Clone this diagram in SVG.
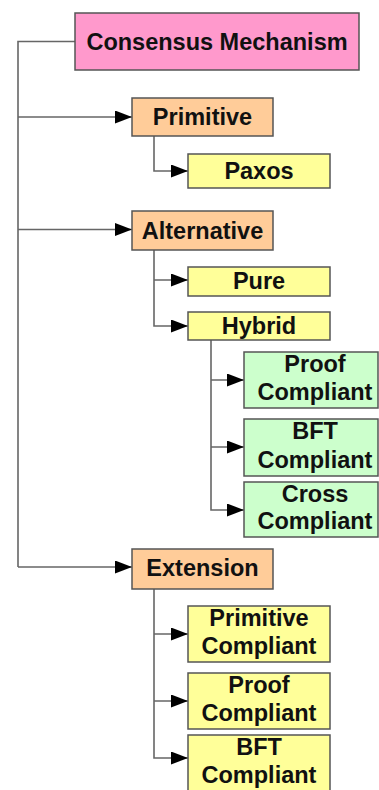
<svg xmlns="http://www.w3.org/2000/svg" width="379" height="790" viewBox="0 0 379 790">
<style>
.box{stroke:#555;stroke-width:1.5}
.root{fill:#ff99cc}
.org{fill:#ffcc99}
.yel{fill:#ffff99}
.grn{fill:#ccffcc}
text{font-family:"Liberation Sans",Arial,sans-serif;font-weight:bold;font-size:23.5px;fill:#111;text-anchor:middle}
.con path{fill:none;stroke:#666;stroke-width:1.6}
</style>
<defs>
<marker id="arr" markerUnits="userSpaceOnUse" markerWidth="18" markerHeight="14" refX="17" refY="6.5" orient="auto">
<path d="M0,0 L17,6.5 L0,13 z" fill="#000"/>
</marker>
</defs>
<g class="con">
<path d="M75,41.5 H18 V567"/>
<path d="M18,117 H132" marker-end="url(#arr)"/>
<path d="M18,229.5 H132" marker-end="url(#arr)"/>
<path d="M18,567 H132" marker-end="url(#arr)"/>
<path d="M154,136 V171 H188" marker-end="url(#arr)"/>
<path d="M154,250 V326 H188" marker-end="url(#arr)"/>
<path d="M154,280 H188" marker-end="url(#arr)"/>
<path d="M211,340 V510 H244" marker-end="url(#arr)"/>
<path d="M211,380 H244" marker-end="url(#arr)"/>
<path d="M211,447 H244" marker-end="url(#arr)"/>
<path d="M154,589 V758 H188" marker-end="url(#arr)"/>
<path d="M154,634 H188" marker-end="url(#arr)"/>
<path d="M154,701 H188" marker-end="url(#arr)"/>
</g>
<g id="consensus"><rect class="box root" x="75" y="13" width="284" height="57"/><text x="217" y="50">Consensus Mechanism</text></g>
<g id="primitive"><rect class="box org" x="132" y="98" width="141" height="38"/><text x="202.5" y="125">Primitive</text></g>
<g id="paxos"><rect class="box yel" x="188" y="154" width="142" height="34"/><text x="259" y="179">Paxos</text></g>
<g id="alternative"><rect class="box org" x="132" y="211" width="141" height="39"/><text x="202.5" y="238.5">Alternative</text></g>
<g id="pure"><rect class="box yel" x="188" y="267" width="142" height="29"/><text x="259" y="288.5">Pure</text></g>
<g id="hybrid"><rect class="box yel" x="188" y="312" width="142" height="28"/><text x="259" y="334">Hybrid</text></g>
<g id="h-proof"><rect class="box grn" x="244" y="352" width="134" height="56"/><text x="315" y="372">Proof</text><text x="315" y="400">Compliant</text></g>
<g id="h-bft"><rect class="box grn" x="244" y="419" width="134" height="57"/><text x="315" y="439">BFT</text><text x="315" y="468">Compliant</text></g>
<g id="h-cross"><rect class="box grn" x="244" y="482" width="134" height="55"/><text x="315" y="502">Cross</text><text x="315" y="529">Compliant</text></g>
<g id="extension"><rect class="box org" x="132" y="549" width="141" height="40"/><text x="202.5" y="576">Extension</text></g>
<g id="e-primitive"><rect class="box yel" x="188" y="606" width="142" height="56"/><text x="259" y="626">Primitive</text><text x="259" y="654">Compliant</text></g>
<g id="e-proof"><rect class="box yel" x="188" y="673" width="142" height="56"/><text x="259" y="693">Proof</text><text x="259" y="721">Compliant</text></g>
<g id="e-bft"><rect class="box yel" x="188" y="735" width="142" height="58"/><text x="259" y="755">BFT</text><text x="259" y="783">Compliant</text></g>
</svg>
